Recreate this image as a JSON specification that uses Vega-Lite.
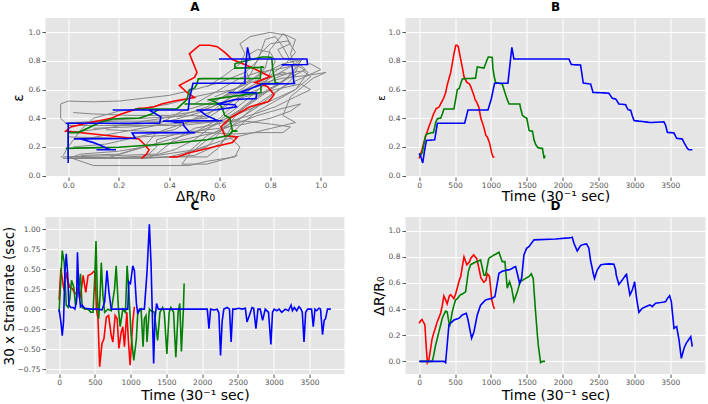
{
"$schema": "https://vega.github.io/schema/vega-lite/v6.json",
"padding": {"left": 2.5, "top": 1, "right": 0, "bottom": 0},
"background": "white",
"config": {
  "view": {"fill": "#E5E5E5", "stroke": null},
  "axis": {"grid": true, "gridColor": "#ffffff", "gridWidth": 1, "domain": false, "tickColor": "#555555", "tickSize": 3.5, "tickWidth": 1, "labelColor": "#555555", "labelFont": "DejaVu Sans", "labelFontSize": 7.5, "labelPadding": 2, "labelFlush": false, "labelOverlap": false, "titleFont": "DejaVu Sans", "titleFontWeight": "normal", "titleColor": "#000000", "titleFontSize": 14},
  "axisX": {"titleBaseline": "alphabetic", "titleAnchor": "middle", "labelPadding": 1},
  "axisY": {"titleBaseline": "bottom", "titleAnchor": "middle"},
  "title": {"font": "DejaVu Sans", "fontSize": 12, "fontWeight": "bold", "color": "#000000", "offset": 4}
},
"datasets": {
"traj": [
{"s":"S1","t":0,"eps":0.12,"dr":0.29},{"s":"S1","t":20,"eps":0.15,"dr":0.31},{"s":"S1","t":40,"eps":0.18,"dr":0.32},{"s":"S1","t":60,"eps":0.22,"dr":0.30},{"s":"S1","t":80,"eps":0.255,"dr":0.28},{"s":"S1","t":100,"eps":0.29,"dr":0.10},{"s":"S1","t":115,"eps":0.31,"dr":-0.01},{"s":"S1","t":135,"eps":0.34,"dr":0.01},{"s":"S1","t":150,"eps":0.36,"dr":0.06},{"s":"S1","t":180,"eps":0.40,"dr":0.17},{"s":"S1","t":200,"eps":0.43,"dr":0.21},{"s":"S1","t":240,"eps":0.47,"dr":0.28},{"s":"S1","t":250,"eps":0.47,"dr":0.30},{"s":"S1","t":280,"eps":0.48,"dr":0.34},{"s":"S1","t":300,"eps":0.50,"dr":0.37},{"s":"S1","t":320,"eps":0.52,"dr":0.42},{"s":"S1","t":345,"eps":0.545,"dr":0.50},{"s":"S1","t":370,"eps":0.58,"dr":0.47},{"s":"S1","t":390,"eps":0.63,"dr":0.44},{"s":"S1","t":420,"eps":0.685,"dr":0.50},{"s":"S1","t":440,"eps":0.72,"dr":0.51},{"s":"S1","t":485,"eps":0.85,"dr":0.48},{"s":"S1","t":510,"eps":0.91,"dr":0.52},{"s":"S1","t":530,"eps":0.91,"dr":0.56},{"s":"S1","t":545,"eps":0.90,"dr":0.59},{"s":"S1","t":560,"eps":0.86,"dr":0.62},{"s":"S1","t":580,"eps":0.81,"dr":0.65},{"s":"S1","t":600,"eps":0.76,"dr":0.72},{"s":"S1","t":625,"eps":0.69,"dr":0.80},{"s":"S1","t":665,"eps":0.65,"dr":0.74},{"s":"S1","t":700,"eps":0.64,"dr":0.76},{"s":"S1","t":720,"eps":0.62,"dr":0.79},{"s":"S1","t":760,"eps":0.565,"dr":0.815},{"s":"S1","t":780,"eps":0.53,"dr":0.80},{"s":"S1","t":800,"eps":0.515,"dr":0.79},{"s":"S1","t":830,"eps":0.48,"dr":0.72},{"s":"S1","t":860,"eps":0.40,"dr":0.64},{"s":"S1","t":900,"eps":0.34,"dr":0.605},{"s":"S1","t":930,"eps":0.28,"dr":0.62},{"s":"S1","t":950,"eps":0.27,"dr":0.67},{"s":"S1","t":980,"eps":0.23,"dr":0.65},{"s":"S1","t":1010,"eps":0.16,"dr":0.48},{"s":"S1","t":1030,"eps":0.13,"dr":0.43},{"s":"S1","t":1050,"eps":0.13,"dr":0.40},
{"s":"S2","t":10,"eps":0.13,"dr":0},{"s":"S2","t":44,"eps":0.16,"dr":0},{"s":"S2","t":90,"eps":0.28,"dr":0},{"s":"S2","t":110,"eps":0.29,"dr":0},{"s":"S2","t":183,"eps":0.30,"dr":0},{"s":"S2","t":200,"eps":0.30,"dr":0.04},{"s":"S2","t":230,"eps":0.37,"dr":0.125},{"s":"S2","t":253,"eps":0.395,"dr":0.175},{"s":"S2","t":276,"eps":0.40,"dr":0.227},{"s":"S2","t":300,"eps":0.40,"dr":0.28},{"s":"S2","t":323,"eps":0.43,"dr":0.33},{"s":"S2","t":346,"eps":0.465,"dr":0.36},{"s":"S2","t":369,"eps":0.465,"dr":0.385},{"s":"S2","t":390,"eps":0.465,"dr":0.38},{"s":"S2","t":425,"eps":0.465,"dr":0.265},{"s":"S2","t":462,"eps":0.465,"dr":0.38},{"s":"S2","t":485,"eps":0.465,"dr":0.43},{"s":"S2","t":508,"eps":0.53,"dr":0.47},{"s":"S2","t":532,"eps":0.60,"dr":0.48},{"s":"S2","t":560,"eps":0.61,"dr":0.50},{"s":"S2","t":578,"eps":0.64,"dr":0.51},{"s":"S2","t":601,"eps":0.675,"dr":0.515},{"s":"S2","t":648,"eps":0.677,"dr":0.533},{"s":"S2","t":685,"eps":0.678,"dr":0.687},{"s":"S2","t":717,"eps":0.678,"dr":0.74},{"s":"S2","t":786,"eps":0.68,"dr":0.76},{"s":"S2","t":810,"eps":0.758,"dr":0.765},{"s":"S2","t":856,"eps":0.755,"dr":0.776},{"s":"S2","t":903,"eps":0.75,"dr":0.66},{"s":"S2","t":926,"eps":0.78,"dr":0.66},{"s":"S2","t":940,"eps":0.80,"dr":0.70},{"s":"S2","t":963,"eps":0.828,"dr":0.77},{"s":"S2","t":973,"eps":0.828,"dr":0.79},{"s":"S2","t":1019,"eps":0.825,"dr":0.806},{"s":"S2","t":1028,"eps":0.75,"dr":0.809},{"s":"S2","t":1042,"eps":0.70,"dr":0.814},{"s":"S2","t":1065,"eps":0.65,"dr":0.82},{"s":"S2","t":1112,"eps":0.645,"dr":0.835},{"s":"S2","t":1158,"eps":0.64,"dr":0.763},{"s":"S2","t":1195,"eps":0.58,"dr":0.763},{"s":"S2","t":1228,"eps":0.53,"dr":0.56},{"s":"S2","t":1253,"eps":0.50,"dr":0.60},{"s":"S2","t":1260,"eps":0.50,"dr":0.61},{"s":"S2","t":1289,"eps":0.50,"dr":0.56},{"s":"S2","t":1321,"eps":0.50,"dr":0.46},{"s":"S2","t":1367,"eps":0.50,"dr":0.53},{"s":"S2","t":1402,"eps":0.50,"dr":0.60},{"s":"S2","t":1414,"eps":0.47,"dr":0.61},{"s":"S2","t":1439,"eps":0.42,"dr":0.62},{"s":"S2","t":1483,"eps":0.405,"dr":0.635},{"s":"S2","t":1500,"eps":0.40,"dr":0.64},{"s":"S2","t":1532,"eps":0.315,"dr":0.65},{"s":"S2","t":1562,"eps":0.31,"dr":0.67},{"s":"S2","t":1578,"eps":0.31,"dr":0.65},{"s":"S2","t":1590,"eps":0.28,"dr":0.635},{"s":"S2","t":1600,"eps":0.25,"dr":0.55},{"s":"S2","t":1622,"eps":0.22,"dr":0.38},{"s":"S2","t":1648,"eps":0.198,"dr":0.20},{"s":"S2","t":1660,"eps":0.195,"dr":0.125},{"s":"S2","t":1692,"eps":0.19,"dr":-0.01},{"s":"S2","t":1718,"eps":0.19,"dr":0.0},{"s":"S2","t":1741,"eps":0.12,"dr":0.0},{"s":"S2","t":1755,"eps":0.14,"dr":0.0},
{"s":"S3","t":0,"eps":0.155,"dr":0},{"s":"S3","t":25,"eps":0.13,"dr":0},{"s":"S3","t":50,"eps":0.088,"dr":0},{"s":"S3","t":75,"eps":0.17,"dr":0},{"s":"S3","t":101,"eps":0.245,"dr":0},{"s":"S3","t":217,"eps":0.25,"dr":0},{"s":"S3","t":254,"eps":0.365,"dr":0},{"s":"S3","t":346,"eps":0.365,"dr":0},{"s":"S3","t":369,"eps":0.365,"dr":-0.01},{"s":"S3","t":415,"eps":0.365,"dr":0.28},{"s":"S3","t":485,"eps":0.365,"dr":0.316},{"s":"S3","t":555,"eps":0.365,"dr":0.33},{"s":"S3","t":601,"eps":0.365,"dr":0.355},{"s":"S3","t":634,"eps":0.365,"dr":0.362},{"s":"S3","t":657,"eps":0.41,"dr":0.367},{"s":"S3","t":680,"eps":0.458,"dr":0.32},{"s":"S3","t":694,"eps":0.458,"dr":0.28},{"s":"S3","t":731,"eps":0.458,"dr":0.176},{"s":"S3","t":764,"eps":0.458,"dr":0.227},{"s":"S3","t":810,"eps":0.458,"dr":0.355},{"s":"S3","t":856,"eps":0.458,"dr":0.43},{"s":"S3","t":926,"eps":0.458,"dr":0.47},{"s":"S3","t":959,"eps":0.458,"dr":0.475},{"s":"S3","t":1005,"eps":0.535,"dr":0.48},{"s":"S3","t":1051,"eps":0.644,"dr":0.494},{"s":"S3","t":1056,"eps":0.645,"dr":0.495},{"s":"S3","t":1112,"eps":0.645,"dr":0.674},{"s":"S3","t":1158,"eps":0.645,"dr":0.69},{"s":"S3","t":1237,"eps":0.645,"dr":0.70},{"s":"S3","t":1251,"eps":0.71,"dr":0.70},{"s":"S3","t":1273,"eps":0.81,"dr":0.705},{"s":"S3","t":1292,"eps":0.895,"dr":0.71},{"s":"S3","t":1320,"eps":0.814,"dr":0.72},{"s":"S3","t":1344,"eps":0.814,"dr":0.725},{"s":"S3","t":1367,"eps":0.814,"dr":0.674},{"s":"S3","t":1400,"eps":0.814,"dr":0.597},{"s":"S3","t":1428,"eps":0.814,"dr":0.635},{"s":"S3","t":1460,"eps":0.814,"dr":0.814},{"s":"S3","t":1497,"eps":0.814,"dr":0.865},{"s":"S3","t":1530,"eps":0.814,"dr":0.878},{"s":"S3","t":1600,"eps":0.814,"dr":0.93},{"s":"S3","t":1901,"eps":0.814,"dr":0.937},{"s":"S3","t":2087,"eps":0.814,"dr":0.945},{"s":"S3","t":2120,"eps":0.775,"dr":0.948},{"s":"S3","t":2133,"eps":0.775,"dr":0.95},{"s":"S3","t":2157,"eps":0.774,"dr":0.904},{"s":"S3","t":2203,"eps":0.773,"dr":0.845},{"s":"S3","t":2249,"eps":0.772,"dr":0.886},{"s":"S3","t":2287,"eps":0.646,"dr":0.894},{"s":"S3","t":2333,"eps":0.643,"dr":0.899},{"s":"S3","t":2365,"eps":0.641,"dr":0.866},{"s":"S3","t":2389,"eps":0.64,"dr":0.77},{"s":"S3","t":2412,"eps":0.60,"dr":0.712},{"s":"S3","t":2422,"eps":0.58,"dr":0.68},{"s":"S3","t":2444,"eps":0.58,"dr":0.635},{"s":"S3","t":2481,"eps":0.579,"dr":0.699},{"s":"S3","t":2528,"eps":0.578,"dr":0.738},{"s":"S3","t":2574,"eps":0.577,"dr":0.743},{"s":"S3","t":2644,"eps":0.575,"dr":0.746},{"s":"S3","t":2692,"eps":0.539,"dr":0.744},{"s":"S3","t":2714,"eps":0.537,"dr":0.743},{"s":"S3","t":2738,"eps":0.535,"dr":0.70},{"s":"S3","t":2746,"eps":0.53,"dr":0.66},{"s":"S3","t":2783,"eps":0.50,"dr":0.589},{"s":"S3","t":2830,"eps":0.498,"dr":0.622},{"s":"S3","t":2878,"eps":0.495,"dr":0.66},{"s":"S3","t":2890,"eps":0.48,"dr":0.666},{"s":"S3","t":2911,"eps":0.46,"dr":0.59},{"s":"S3","t":2937,"eps":0.457,"dr":0.508},{"s":"S3","t":2948,"eps":0.455,"dr":0.52},{"s":"S3","t":2969,"eps":0.42,"dr":0.546},{"s":"S3","t":2994,"eps":0.384,"dr":0.59},{"s":"S3","t":3002,"eps":0.383,"dr":0.61},{"s":"S3","t":3030,"eps":0.382,"dr":0.482},{"s":"S3","t":3062,"eps":0.38,"dr":0.375},{"s":"S3","t":3109,"eps":0.378,"dr":0.406},{"s":"S3","t":3179,"eps":0.373,"dr":0.424},{"s":"S3","t":3216,"eps":0.37,"dr":0.432},{"s":"S3","t":3248,"eps":0.371,"dr":0.419},{"s":"S3","t":3295,"eps":0.372,"dr":0.445},{"s":"S3","t":3365,"eps":0.374,"dr":0.45},{"s":"S3","t":3411,"eps":0.375,"dr":0.454},{"s":"S3","t":3435,"eps":0.35,"dr":0.457},{"s":"S3","t":3458,"eps":0.302,"dr":0.48},{"s":"S3","t":3490,"eps":0.30,"dr":0.503},{"s":"S3","t":3514,"eps":0.30,"dr":0.457},{"s":"S3","t":3551,"eps":0.297,"dr":0.253},{"s":"S3","t":3588,"eps":0.26,"dr":0.266},{"s":"S3","t":3621,"eps":0.258,"dr":0.164},{"s":"S3","t":3653,"eps":0.256,"dr":0.023},{"s":"S3","t":3667,"eps":0.255,"dr":0.05},{"s":"S3","t":3691,"eps":0.23,"dr":0.10},{"s":"S3","t":3727,"eps":0.198,"dr":0.145},{"s":"S3","t":3737,"eps":0.19,"dr":0.15},{"s":"S3","t":3760,"eps":0.18,"dr":0.17},{"s":"S3","t":3784,"eps":0.18,"dr":0.189},{"s":"S3","t":3806,"eps":0.18,"dr":0.112}
],
"rate": [
{"s":"S1","t":0,"v":0.11},{"s":"S1","t":25,"v":0.51},{"s":"S1","t":58,"v":0.29},{"s":"S1","t":72,"v":0.23},{"s":"S1","t":104,"v":0.46},{"s":"S1","t":127,"v":0.34},{"s":"S1","t":150,"v":0.27},{"s":"S1","t":183,"v":0.26},{"s":"S1","t":211,"v":0.21},{"s":"S1","t":243,"v":0.19},{"s":"S1","t":266,"v":0.27},{"s":"S1","t":289,"v":0.13},{"s":"S1","t":312,"v":0.25},{"s":"S1","t":336,"v":0.42},{"s":"S1","t":373,"v":0.21},{"s":"S1","t":405,"v":0.42},{"s":"S1","t":451,"v":0.44},{"s":"S1","t":488,"v":0.47},{"s":"S1","t":507,"v":0.45},{"s":"S1","t":521,"v":0.0},{"s":"S1","t":544,"v":-0.12},{"s":"S1","t":567,"v":-0.72},{"s":"S1","t":600,"v":-0.43},{"s":"S1","t":627,"v":-0.37},{"s":"S1","t":660,"v":-0.10},{"s":"S1","t":692,"v":-0.08},{"s":"S1","t":729,"v":-0.33},{"s":"S1","t":752,"v":-0.41},{"s":"S1","t":784,"v":-0.08},{"s":"S1","t":812,"v":-0.12},{"s":"S1","t":836,"v":-0.49},{"s":"S1","t":868,"v":-0.29},{"s":"S1","t":891,"v":-0.22},{"s":"S1","t":914,"v":-0.47},{"s":"S1","t":947,"v":-0.04},{"s":"S1","t":970,"v":-0.41},{"s":"S1","t":993,"v":-0.70},{"s":"S1","t":1030,"v":-0.16},{"s":"S1","t":1053,"v":0.03},
{"s":"S2","t":0,"v":-0.04},{"s":"S2","t":25,"v":0.38},{"s":"S2","t":44,"v":0.73},{"s":"S2","t":72,"v":0.58},{"s":"S2","t":100,"v":0.05},{"s":"S2","t":127,"v":0.02},{"s":"S2","t":150,"v":0.13},{"s":"S2","t":174,"v":0.36},{"s":"S2","t":206,"v":0.27},{"s":"S2","t":229,"v":0.05},{"s":"S2","t":252,"v":0.17},{"s":"S2","t":275,"v":0.25},{"s":"S2","t":299,"v":0.44},{"s":"S2","t":322,"v":0.02},{"s":"S2","t":360,"v":0.0},{"s":"S2","t":405,"v":0.0},{"s":"S2","t":442,"v":-0.04},{"s":"S2","t":475,"v":-0.04},{"s":"S2","t":498,"v":0.38},{"s":"S2","t":516,"v":0.85},{"s":"S2","t":535,"v":0.17},{"s":"S2","t":553,"v":-0.12},{"s":"S2","t":572,"v":0.15},{"s":"S2","t":590,"v":0.58},{"s":"S2","t":613,"v":0.17},{"s":"S2","t":637,"v":-0.04},{"s":"S2","t":683,"v":0.0},{"s":"S2","t":730,"v":-0.02},{"s":"S2","t":775,"v":0.25},{"s":"S2","t":798,"v":0.54},{"s":"S2","t":830,"v":0.0},{"s":"S2","t":854,"v":-0.22},{"s":"S2","t":891,"v":0.0},{"s":"S2","t":928,"v":-0.04},{"s":"S2","t":951,"v":0.54},{"s":"S2","t":974,"v":0.25},{"s":"S2","t":1007,"v":-0.33},{"s":"S2","t":1044,"v":-0.64},{"s":"S2","t":1081,"v":-0.37},{"s":"S2","t":1100,"v":-0.04},{"s":"S2","t":1146,"v":0.0},{"s":"S2","t":1174,"v":-0.47},{"s":"S2","t":1192,"v":-0.12},{"s":"S2","t":1215,"v":-0.08},{"s":"S2","t":1229,"v":-0.41},{"s":"S2","t":1262,"v":0.0},{"s":"S2","t":1285,"v":-0.02},{"s":"S2","t":1331,"v":-0.04},{"s":"S2","t":1377,"v":-0.39},{"s":"S2","t":1410,"v":-0.04},{"s":"S2","t":1447,"v":0.02},{"s":"S2","t":1470,"v":-0.04},{"s":"S2","t":1507,"v":-0.56},{"s":"S2","t":1539,"v":-0.04},{"s":"S2","t":1563,"v":0.02},{"s":"S2","t":1600,"v":-0.04},{"s":"S2","t":1632,"v":-0.60},{"s":"S2","t":1664,"v":-0.04},{"s":"S2","t":1687,"v":0.07},{"s":"S2","t":1710,"v":-0.53},{"s":"S2","t":1738,"v":0.0},{"s":"S2","t":1748,"v":0.32},
{"s":"S3","t":0,"v":0.0},{"s":"S3","t":25,"v":-0.16},{"s":"S3","t":44,"v":-0.33},{"s":"S3","t":62,"v":-0.16},{"s":"S3","t":81,"v":0.46},{"s":"S3","t":100,"v":0.69},{"s":"S3","t":118,"v":0.46},{"s":"S3","t":137,"v":0.05},{"s":"S3","t":164,"v":0.02},{"s":"S3","t":197,"v":0.02},{"s":"S3","t":220,"v":0.0},{"s":"S3","t":243,"v":0.09},{"s":"S3","t":257,"v":0.71},{"s":"S3","t":275,"v":0.25},{"s":"S3","t":299,"v":0.03},{"s":"S3","t":322,"v":0.05},{"s":"S3","t":360,"v":0.01},{"s":"S3","t":450,"v":0.0},{"s":"S3","t":544,"v":0.0},{"s":"S3","t":600,"v":-0.01},{"s":"S3","t":637,"v":0.09},{"s":"S3","t":669,"v":0.48},{"s":"S3","t":697,"v":0.21},{"s":"S3","t":729,"v":0.0},{"s":"S3","t":850,"v":0.0},{"s":"S3","t":961,"v":0.0},{"s":"S3","t":974,"v":0.34},{"s":"S3","t":998,"v":0.32},{"s":"S3","t":1030,"v":0.54},{"s":"S3","t":1053,"v":0.48},{"s":"S3","t":1081,"v":0.07},{"s":"S3","t":1100,"v":-0.06},{"s":"S3","t":1123,"v":0.0},{"s":"S3","t":1192,"v":0.0},{"s":"S3","t":1229,"v":0.46},{"s":"S3","t":1262,"v":1.06},{"s":"S3","t":1285,"v":0.58},{"s":"S3","t":1303,"v":-0.04},{"s":"S3","t":1322,"v":-0.68},{"s":"S3","t":1340,"v":-0.12},{"s":"S3","t":1363,"v":0.07},{"s":"S3","t":1387,"v":0.0},{"s":"S3","t":1500,"v":0.0},{"s":"S3","t":1700,"v":0.0},{"s":"S3","t":1900,"v":0.0},{"s":"S3","t":2072,"v":0.0},{"s":"S3","t":2095,"v":-0.245},{"s":"S3","t":2118,"v":0.0},{"s":"S3","t":2164,"v":-0.01},{"s":"S3","t":2211,"v":0.0},{"s":"S3","t":2234,"v":-0.05},{"s":"S3","t":2257,"v":-0.58},{"s":"S3","t":2280,"v":-0.15},{"s":"S3","t":2303,"v":0.0},{"s":"S3","t":2350,"v":0.02},{"s":"S3","t":2382,"v":0.0},{"s":"S3","t":2405,"v":-0.41},{"s":"S3","t":2428,"v":0.0},{"s":"S3","t":2465,"v":0.0},{"s":"S3","t":2512,"v":0.01},{"s":"S3","t":2558,"v":0.0},{"s":"S3","t":2604,"v":0.01},{"s":"S3","t":2627,"v":-0.16},{"s":"S3","t":2660,"v":-0.08},{"s":"S3","t":2697,"v":0.02},{"s":"S3","t":2720,"v":0.01},{"s":"S3","t":2752,"v":-0.245},{"s":"S3","t":2780,"v":0.0},{"s":"S3","t":2812,"v":0.0},{"s":"S3","t":2845,"v":-0.14},{"s":"S3","t":2882,"v":0.0},{"s":"S3","t":2928,"v":-0.04},{"s":"S3","t":2961,"v":-0.44},{"s":"S3","t":2984,"v":-0.04},{"s":"S3","t":3007,"v":0.0},{"s":"S3","t":3044,"v":-0.02},{"s":"S3","t":3076,"v":0.0},{"s":"S3","t":3113,"v":-0.04},{"s":"S3","t":3160,"v":0.0},{"s":"S3","t":3206,"v":-0.02},{"s":"S3","t":3243,"v":0.05},{"s":"S3","t":3262,"v":-0.02},{"s":"S3","t":3289,"v":0.02},{"s":"S3","t":3322,"v":-0.02},{"s":"S3","t":3354,"v":0.03},{"s":"S3","t":3382,"v":0.0},{"s":"S3","t":3400,"v":-0.04},{"s":"S3","t":3424,"v":-0.41},{"s":"S3","t":3447,"v":-0.04},{"s":"S3","t":3475,"v":0.0},{"s":"S3","t":3530,"v":0.0},{"s":"S3","t":3553,"v":-0.22},{"s":"S3","t":3577,"v":0.0},{"s":"S3","t":3600,"v":-0.02},{"s":"S3","t":3632,"v":0.01},{"s":"S3","t":3655,"v":0.0},{"s":"S3","t":3683,"v":-0.32},{"s":"S3","t":3706,"v":-0.14},{"s":"S3","t":3725,"v":-0.12},{"s":"S3","t":3752,"v":0.0},{"s":"S3","t":3776,"v":0.0},{"s":"S3","t":3799,"v":0.0}
],
"gray": [
{"g":1,"k":0,"dr":0.0,"eps":0.12},{"g":1,"k":1,"dr":0.2,"eps":0.12},{"g":1,"k":2,"dr":0.4,"eps":0.13},{"g":1,"k":3,"dr":0.55,"eps":0.13},{"g":1,"k":4,"dr":0.6,"eps":0.2},{"g":1,"k":5,"dr":0.65,"eps":0.35},{"g":1,"k":6,"dr":0.75,"eps":0.5},{"g":1,"k":7,"dr":0.85,"eps":0.62},{"g":1,"k":8,"dr":0.95,"eps":0.7},{"g":1,"k":9,"dr":1.02,"eps":0.72},{"g":1,"k":10,"dr":0.97,"eps":0.68},{"g":1,"k":11,"dr":0.88,"eps":0.55},{"g":1,"k":12,"dr":0.85,"eps":0.42},{"g":1,"k":13,"dr":0.9,"eps":0.37},{"g":1,"k":14,"dr":0.78,"eps":0.32},{"g":1,"k":15,"dr":0.62,"eps":0.25},{"g":1,"k":16,"dr":0.5,"eps":0.18},{"g":1,"k":17,"dr":0.35,"eps":0.14},{"g":1,"k":18,"dr":0.1,"eps":0.12},{"g":1,"k":19,"dr":-0.02,"eps":0.12},
{"g":2,"k":0,"dr":-0.02,"eps":0.12},{"g":2,"k":1,"dr":0.15,"eps":0.12},{"g":2,"k":2,"dr":0.3,"eps":0.2},{"g":2,"k":3,"dr":0.35,"eps":0.3},{"g":2,"k":4,"dr":0.45,"eps":0.36},{"g":2,"k":5,"dr":0.55,"eps":0.42},{"g":2,"k":6,"dr":0.62,"eps":0.52},{"g":2,"k":7,"dr":0.7,"eps":0.62},{"g":2,"k":8,"dr":0.78,"eps":0.75},{"g":2,"k":9,"dr":0.8,"eps":0.88},{"g":2,"k":10,"dr":0.85,"eps":0.99},{"g":2,"k":11,"dr":0.9,"eps":0.95},{"g":2,"k":12,"dr":0.88,"eps":0.85},{"g":2,"k":13,"dr":0.9,"eps":0.75},{"g":2,"k":14,"dr":0.85,"eps":0.65},{"g":2,"k":15,"dr":0.75,"eps":0.55},{"g":2,"k":16,"dr":0.68,"eps":0.45},{"g":2,"k":17,"dr":0.62,"eps":0.33},{"g":2,"k":18,"dr":0.55,"eps":0.25},{"g":2,"k":19,"dr":0.48,"eps":0.15},{"g":2,"k":20,"dr":0.45,"eps":0.08},{"g":2,"k":21,"dr":0.55,"eps":0.08},{"g":2,"k":22,"dr":0.67,"eps":0.14},
{"g":3,"k":0,"dr":0.0,"eps":0.35},{"g":3,"k":1,"dr":-0.03,"eps":0.4},{"g":3,"k":2,"dr":-0.03,"eps":0.5},{"g":3,"k":3,"dr":0.0,"eps":0.52},{"g":3,"k":4,"dr":0.1,"eps":0.515},{"g":3,"k":5,"dr":0.2,"eps":0.52},{"g":3,"k":6,"dr":0.3,"eps":0.54},{"g":3,"k":7,"dr":0.4,"eps":0.56},{"g":3,"k":8,"dr":0.5,"eps":0.6},{"g":3,"k":9,"dr":0.6,"eps":0.65},{"g":3,"k":10,"dr":0.7,"eps":0.72},{"g":3,"k":11,"dr":0.75,"eps":0.8},{"g":3,"k":12,"dr":0.78,"eps":0.95},{"g":3,"k":13,"dr":0.82,"eps":0.97},{"g":3,"k":14,"dr":0.85,"eps":0.9},{"g":3,"k":15,"dr":0.88,"eps":0.8},{"g":3,"k":16,"dr":0.95,"eps":0.72},{"g":3,"k":17,"dr":0.9,"eps":0.6},{"g":3,"k":18,"dr":0.8,"eps":0.52},{"g":3,"k":19,"dr":0.7,"eps":0.45},{"g":3,"k":20,"dr":0.6,"eps":0.38},{"g":3,"k":21,"dr":0.45,"eps":0.35},{"g":3,"k":22,"dr":0.3,"eps":0.35},{"g":3,"k":23,"dr":0.1,"eps":0.35},{"g":3,"k":24,"dr":0.0,"eps":0.35},
{"g":4,"k":0,"dr":0.0,"eps":0.37},{"g":4,"k":1,"dr":0.2,"eps":0.38},{"g":4,"k":2,"dr":0.4,"eps":0.38},{"g":4,"k":3,"dr":0.55,"eps":0.4},{"g":4,"k":4,"dr":0.62,"eps":0.48},{"g":4,"k":5,"dr":0.7,"eps":0.58},{"g":4,"k":6,"dr":0.8,"eps":0.68},{"g":4,"k":7,"dr":0.9,"eps":0.78},{"g":4,"k":8,"dr":0.93,"eps":0.82},{"g":4,"k":9,"dr":0.88,"eps":0.7},{"g":4,"k":10,"dr":0.8,"eps":0.6},{"g":4,"k":11,"dr":0.72,"eps":0.5},{"g":4,"k":12,"dr":0.65,"eps":0.42},{"g":4,"k":13,"dr":0.6,"eps":0.3},{"g":4,"k":14,"dr":0.55,"eps":0.2},{"g":4,"k":15,"dr":0.4,"eps":0.13},{"g":4,"k":16,"dr":0.2,"eps":0.12},{"g":4,"k":17,"dr":0.0,"eps":0.13},
{"g":5,"k":0,"dr":0.02,"eps":0.2},{"g":5,"k":1,"dr":0.15,"eps":0.22},{"g":5,"k":2,"dr":0.3,"eps":0.28},{"g":5,"k":3,"dr":0.42,"eps":0.32},{"g":5,"k":4,"dr":0.5,"eps":0.4},{"g":5,"k":5,"dr":0.6,"eps":0.47},{"g":5,"k":6,"dr":0.68,"eps":0.55},{"g":5,"k":7,"dr":0.75,"eps":0.6},{"g":5,"k":8,"dr":0.82,"eps":0.68},{"g":5,"k":9,"dr":0.88,"eps":0.72},{"g":5,"k":10,"dr":0.93,"eps":0.73},{"g":5,"k":11,"dr":0.96,"eps":0.69},{"g":5,"k":12,"dr":0.9,"eps":0.6},{"g":5,"k":13,"dr":0.82,"eps":0.52},{"g":5,"k":14,"dr":0.75,"eps":0.45},{"g":5,"k":15,"dr":0.7,"eps":0.38},{"g":5,"k":16,"dr":0.65,"eps":0.3},{"g":5,"k":17,"dr":0.6,"eps":0.22},{"g":5,"k":18,"dr":0.5,"eps":0.14},{"g":5,"k":19,"dr":0.3,"eps":0.12},{"g":5,"k":20,"dr":0.05,"eps":0.13},
{"g":6,"k":0,"dr":0.05,"eps":0.25},{"g":6,"k":1,"dr":0.2,"eps":0.3},{"g":6,"k":2,"dr":0.35,"eps":0.35},{"g":6,"k":3,"dr":0.45,"eps":0.45},{"g":6,"k":4,"dr":0.55,"eps":0.5},{"g":6,"k":5,"dr":0.65,"eps":0.58},{"g":6,"k":6,"dr":0.72,"eps":0.7},{"g":6,"k":7,"dr":0.76,"eps":0.85},{"g":6,"k":8,"dr":0.8,"eps":0.92},{"g":6,"k":9,"dr":0.87,"eps":0.94},{"g":6,"k":10,"dr":0.9,"eps":0.86},{"g":6,"k":11,"dr":0.86,"eps":0.78},{"g":6,"k":12,"dr":0.8,"eps":0.7},{"g":6,"k":13,"dr":0.72,"eps":0.6},{"g":6,"k":14,"dr":0.66,"eps":0.5},{"g":6,"k":15,"dr":0.6,"eps":0.4},{"g":6,"k":16,"dr":0.5,"eps":0.3},{"g":6,"k":17,"dr":0.4,"eps":0.25},{"g":6,"k":18,"dr":0.3,"eps":0.2},{"g":6,"k":19,"dr":0.2,"eps":0.15},{"g":6,"k":20,"dr":0.05,"eps":0.14},
{"g":7,"k":0,"dr":0.0,"eps":0.3},{"g":7,"k":1,"dr":0.15,"eps":0.33},{"g":7,"k":2,"dr":0.3,"eps":0.38},{"g":7,"k":3,"dr":0.45,"eps":0.42},{"g":7,"k":4,"dr":0.55,"eps":0.48},{"g":7,"k":5,"dr":0.62,"eps":0.56},{"g":7,"k":6,"dr":0.7,"eps":0.65},{"g":7,"k":7,"dr":0.78,"eps":0.72},{"g":7,"k":8,"dr":0.85,"eps":0.78},{"g":7,"k":9,"dr":0.9,"eps":0.8},{"g":7,"k":10,"dr":0.94,"eps":0.74},{"g":7,"k":11,"dr":0.85,"eps":0.66},{"g":7,"k":12,"dr":0.75,"eps":0.56},{"g":7,"k":13,"dr":0.68,"eps":0.46},{"g":7,"k":14,"dr":0.58,"eps":0.35},{"g":7,"k":15,"dr":0.5,"eps":0.3},{"g":7,"k":16,"dr":0.38,"eps":0.28},{"g":7,"k":17,"dr":0.2,"eps":0.26},{"g":7,"k":18,"dr":0.0,"eps":0.27},
{"g":8,"k":0,"dr":0.3,"eps":0.12},{"g":8,"k":1,"dr":0.35,"eps":0.2},{"g":8,"k":2,"dr":0.35,"eps":0.25},{"g":8,"k":3,"dr":0.45,"eps":0.3},{"g":8,"k":4,"dr":0.6,"eps":0.33},{"g":8,"k":5,"dr":0.7,"eps":0.36},{"g":8,"k":6,"dr":0.8,"eps":0.4},{"g":8,"k":7,"dr":0.88,"eps":0.45},{"g":8,"k":8,"dr":0.92,"eps":0.5},{"g":8,"k":9,"dr":0.85,"eps":0.47},{"g":8,"k":10,"dr":0.75,"eps":0.42},{"g":8,"k":11,"dr":0.65,"eps":0.35},{"g":8,"k":12,"dr":0.55,"eps":0.28},{"g":8,"k":13,"dr":0.5,"eps":0.2},{"g":8,"k":14,"dr":0.45,"eps":0.13},
{"g":9,"k":0,"dr":0.5,"eps":0.5},{"g":9,"k":1,"dr":0.55,"eps":0.55},{"g":9,"k":2,"dr":0.62,"eps":0.62},{"g":9,"k":3,"dr":0.68,"eps":0.68},{"g":9,"k":4,"dr":0.75,"eps":0.72},{"g":9,"k":5,"dr":0.82,"eps":0.74},{"g":9,"k":6,"dr":0.9,"eps":0.77},{"g":9,"k":7,"dr":0.96,"eps":0.78},{"g":9,"k":8,"dr":1.0,"eps":0.74},{"g":9,"k":9,"dr":0.95,"eps":0.7},{"g":9,"k":10,"dr":0.85,"eps":0.68},{"g":9,"k":11,"dr":0.78,"eps":0.65},{"g":9,"k":12,"dr":0.7,"eps":0.6},{"g":9,"k":13,"dr":0.62,"eps":0.55},{"g":9,"k":14,"dr":0.55,"eps":0.52},
{"g":10,"k":0,"dr":-0.02,"eps":0.14},{"g":10,"k":1,"dr":0.0,"eps":0.2},{"g":10,"k":2,"dr":0.05,"eps":0.32},{"g":10,"k":3,"dr":0.1,"eps":0.4},{"g":10,"k":4,"dr":0.2,"eps":0.45},{"g":10,"k":5,"dr":0.3,"eps":0.47},{"g":10,"k":6,"dr":0.4,"eps":0.5},{"g":10,"k":7,"dr":0.5,"eps":0.55},{"g":10,"k":8,"dr":0.58,"eps":0.58},{"g":10,"k":9,"dr":0.66,"eps":0.6},{"g":10,"k":10,"dr":0.72,"eps":0.66},{"g":10,"k":11,"dr":0.7,"eps":0.75},{"g":10,"k":12,"dr":0.72,"eps":0.85},{"g":10,"k":13,"dr":0.75,"eps":0.88},{"g":10,"k":14,"dr":0.8,"eps":0.86},{"g":10,"k":15,"dr":0.82,"eps":0.8},{"g":10,"k":16,"dr":0.8,"eps":0.72},{"g":10,"k":17,"dr":0.78,"eps":0.64},{"g":10,"k":18,"dr":0.72,"eps":0.55},{"g":10,"k":19,"dr":0.65,"eps":0.45},{"g":10,"k":20,"dr":0.58,"eps":0.36},{"g":10,"k":21,"dr":0.5,"eps":0.25},{"g":10,"k":22,"dr":0.42,"eps":0.18},{"g":10,"k":23,"dr":0.3,"eps":0.12},
{"g":11,"k":0,"dr":0.0,"eps":0.13},{"g":11,"k":1,"dr":0.1,"eps":0.07},{"g":11,"k":2,"dr":0.3,"eps":0.07},{"g":11,"k":3,"dr":0.48,"eps":0.07},{"g":11,"k":4,"dr":0.55,"eps":0.1},{"g":11,"k":5,"dr":0.66,"eps":0.13},{"g":11,"k":6,"dr":0.68,"eps":0.2},{"g":11,"k":7,"dr":0.62,"eps":0.3},{"g":11,"k":8,"dr":0.58,"eps":0.4},{"g":11,"k":9,"dr":0.5,"eps":0.42},{"g":11,"k":10,"dr":0.3,"eps":0.4},{"g":11,"k":11,"dr":0.1,"eps":0.38},{"g":11,"k":12,"dr":0.0,"eps":0.36},
{"g":12,"k":0,"dr":-0.03,"eps":0.13},{"g":12,"k":1,"dr":0.2,"eps":0.14},{"g":12,"k":2,"dr":0.35,"eps":0.15},{"g":12,"k":3,"dr":0.42,"eps":0.25},{"g":12,"k":4,"dr":0.5,"eps":0.33},{"g":12,"k":5,"dr":0.62,"eps":0.37},{"g":12,"k":6,"dr":0.72,"eps":0.42},{"g":12,"k":7,"dr":0.82,"eps":0.48},{"g":12,"k":8,"dr":0.9,"eps":0.55},{"g":12,"k":9,"dr":0.96,"eps":0.6},{"g":12,"k":10,"dr":0.92,"eps":0.64},{"g":12,"k":11,"dr":0.82,"eps":0.6},{"g":12,"k":12,"dr":0.7,"eps":0.55},{"g":12,"k":13,"dr":0.6,"eps":0.5},{"g":12,"k":14,"dr":0.52,"eps":0.45},{"g":12,"k":15,"dr":0.4,"eps":0.42},{"g":12,"k":16,"dr":0.25,"eps":0.42},{"g":12,"k":17,"dr":0.1,"eps":0.43},{"g":12,"k":18,"dr":0.02,"eps":0.44},
{"g":13,"k":0,"dr":0.55,"eps":0.62},{"g":13,"k":1,"dr":0.62,"eps":0.7},{"g":13,"k":2,"dr":0.68,"eps":0.78},{"g":13,"k":3,"dr":0.7,"eps":0.85},{"g":13,"k":4,"dr":0.68,"eps":0.92},{"g":13,"k":5,"dr":0.72,"eps":0.97},{"g":13,"k":6,"dr":0.8,"eps":1.0},{"g":13,"k":7,"dr":0.86,"eps":0.98},{"g":13,"k":8,"dr":0.88,"eps":0.92},{"g":13,"k":9,"dr":0.83,"eps":0.88},{"g":13,"k":10,"dr":0.85,"eps":0.82},{"g":13,"k":11,"dr":0.92,"eps":0.8},{"g":13,"k":12,"dr":0.9,"eps":0.72},{"g":13,"k":13,"dr":0.82,"eps":0.7},{"g":13,"k":14,"dr":0.74,"eps":0.66},{"g":13,"k":15,"dr":0.65,"eps":0.6},{"g":13,"k":16,"dr":0.58,"eps":0.55},
{"g":14,"k":0,"dr":0.1,"eps":0.33},{"g":14,"k":1,"dr":0.25,"eps":0.34},{"g":14,"k":2,"dr":0.4,"eps":0.36},{"g":14,"k":3,"dr":0.5,"eps":0.37},{"g":14,"k":4,"dr":0.6,"eps":0.38},{"g":14,"k":5,"dr":0.7,"eps":0.38},{"g":14,"k":6,"dr":0.8,"eps":0.36},{"g":14,"k":7,"dr":0.88,"eps":0.34},{"g":14,"k":8,"dr":0.85,"eps":0.3},{"g":14,"k":9,"dr":0.75,"eps":0.3},{"g":14,"k":10,"dr":0.65,"eps":0.29},{"g":14,"k":11,"dr":0.55,"eps":0.3},{"g":14,"k":12,"dr":0.45,"eps":0.3},{"g":14,"k":13,"dr":0.3,"eps":0.31},{"g":14,"k":14,"dr":0.15,"eps":0.32},
{"g":15,"k":0,"dr":0.0,"eps":0.12},{"g":15,"k":1,"dr":0.05,"eps":0.15},{"g":15,"k":2,"dr":0.2,"eps":0.17},{"g":15,"k":3,"dr":0.3,"eps":0.2},{"g":15,"k":4,"dr":0.38,"eps":0.22},{"g":15,"k":5,"dr":0.48,"eps":0.26},{"g":15,"k":6,"dr":0.58,"eps":0.3},{"g":15,"k":7,"dr":0.68,"eps":0.4},{"g":15,"k":8,"dr":0.75,"eps":0.48},{"g":15,"k":9,"dr":0.8,"eps":0.55},{"g":15,"k":10,"dr":0.86,"eps":0.63},{"g":15,"k":11,"dr":0.9,"eps":0.7},{"g":15,"k":12,"dr":0.85,"eps":0.72},{"g":15,"k":13,"dr":0.78,"eps":0.68},{"g":15,"k":14,"dr":0.7,"eps":0.6},{"g":15,"k":15,"dr":0.62,"eps":0.52},{"g":15,"k":16,"dr":0.52,"eps":0.44},{"g":15,"k":17,"dr":0.4,"eps":0.38},{"g":15,"k":18,"dr":0.28,"eps":0.36},{"g":15,"k":19,"dr":0.15,"eps":0.35}
]
},
"columns": 2,
"spacing": {"row": 40, "column": 61},
"bounds": "flush",
"concat": [
{
 "title": {"text": "A"},
 "width": 299, "height": 159,
 "encoding": {
  "x": {"field": "dr", "type": "quantitative", "scale": {"domain": [-0.09, 1.094], "nice": false, "zero": false}, "axis": {"values": [0, 0.2, 0.4, 0.6, 0.8, 1.0], "format": ".1f", "title": "ΔR/R₀", "titleY": 23, "labelOverlap": false}},
  "y": {"field": "eps", "type": "quantitative", "scale": {"domain": [-0.01, 1.1], "nice": false, "zero": false}, "axis": {"values": [0, 0.2, 0.4, 0.6, 0.8, 1.0], "format": ".1f", "title": "ε", "titleX": -20, "labelOverlap": false}}
 },
 "layer": [
  {"data": {"name": "gray"}, "mark": {"type": "line", "color": "#858585", "strokeWidth": 1, "clip": true},
   "encoding": {"detail": {"field": "g"}, "order": {"field": "k"}}},
  {"data": {"name": "traj"}, "mark": {"type": "line", "strokeWidth": 1.6, "clip": true},
   "encoding": {
    "color": {"field": "s", "type": "nominal", "scale": {"domain": ["S1", "S2", "S3"], "range": ["#ff0000", "#008000", "#0000ff"]}, "legend": null},
    "order": {"field": "t"}
   }}
 ]
},
{
 "title": {"text": "B"},
 "width": 300, "height": 159,
 "data": {"name": "traj"},
 "mark": {"type": "line", "strokeWidth": 1.6, "clip": true},
 "encoding": {
  "x": {"field": "t", "type": "quantitative", "scale": {"domain": [-190, 3990], "nice": false, "zero": false}, "axis": {"values": [0, 500, 1000, 1500, 2000, 2500, 3000, 3500], "format": "d", "title": "Time (30⁻¹ sec)", "titleY": 23}},
  "y": {"field": "eps", "type": "quantitative", "scale": {"domain": [-0.01, 1.1], "nice": false, "zero": false}, "axis": {"values": [0, 0.2, 0.4, 0.6, 0.8, 1.0], "format": ".1f", "title": "ε", "titleFontSize": 10, "titleX": -19}},
  "color": {"field": "s", "type": "nominal", "scale": {"domain": ["S1", "S2", "S3"], "range": ["#ff0000", "#008000", "#0000ff"]}, "legend": null},
  "order": {"field": "t"}
 }
},
{
 "title": {"text": "C"},
 "width": 299, "height": 157,
 "data": {"name": "rate"},
 "mark": {"type": "line", "strokeWidth": 1.6, "clip": true},
 "encoding": {
  "x": {"field": "t", "type": "quantitative", "scale": {"domain": [-190, 3990], "nice": false, "zero": false}, "axis": {"values": [0, 500, 1000, 1500, 2000, 2500, 3000, 3500], "format": "d", "title": "Time (30⁻¹ sec)", "titleY": 25}},
  "y": {"field": "v", "type": "quantitative", "scale": {"domain": [-0.81, 1.15], "nice": false, "zero": false}, "axis": {"values": [-0.75, -0.5, -0.25, 0, 0.25, 0.5, 0.75, 1.0], "format": ".2f", "title": "30 x Strainrate (sec)", "titleFontSize": 13.5, "titleX": -29}},
  "color": {"field": "s", "type": "nominal", "scale": {"domain": ["S1", "S2", "S3"], "range": ["#ff0000", "#008000", "#0000ff"]}, "legend": null},
  "order": {"field": "t"}
 }
},
{
 "title": {"text": "D"},
 "width": 300, "height": 157,
 "data": {"name": "traj"},
 "mark": {"type": "line", "strokeWidth": 1.6, "clip": true},
 "encoding": {
  "x": {"field": "t", "type": "quantitative", "scale": {"domain": [-190, 3990], "nice": false, "zero": false}, "axis": {"values": [0, 500, 1000, 1500, 2000, 2500, 3000, 3500], "format": "d", "title": "Time (30⁻¹ sec)", "titleY": 25}},
  "y": {"field": "dr", "type": "quantitative", "scale": {"domain": [-0.097, 1.105], "nice": false, "zero": false}, "axis": {"values": [0, 0.2, 0.4, 0.6, 0.8, 1.0], "format": ".1f", "title": "ΔR/R₀", "titleX": -19}},
  "color": {"field": "s", "type": "nominal", "scale": {"domain": ["S1", "S2", "S3"], "range": ["#ff0000", "#008000", "#0000ff"]}, "legend": null},
  "order": {"field": "t"}
 }
}
]
}
